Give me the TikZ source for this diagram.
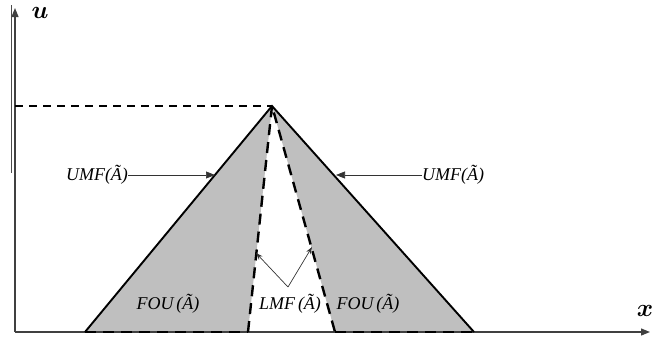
\documentclass[tikz,border=0pt]{standalone}
\usepackage{bm}
\usepackage{fontspec}
\newfontfamily\lblfont{Liberation Serif}
\usetikzlibrary{arrows.meta}
\begin{document}
\begin{tikzpicture}[x=1pt,y=-1pt,
  lbl/.style={font=\lblfont\fontsize{18}{20}\selectfont\itshape, inner sep=0pt},
  ax/.style={line width=1.2pt, draw=black!75},
  umf/.style={line width=1.9pt},
  lmf/.style={line width=2.4pt, dash pattern=on 11pt off 7pt},
  pointer/.style={line width=0.7pt, draw=black!80}]
\useasboundingbox (0,0) rectangle (652,340);
% coordinates
\coordinate (O) at (15,332);
\coordinate (P) at (272,106);
\coordinate (L) at (85,332);
\coordinate (R) at (474,332);
\coordinate (Li) at (248,332);
\coordinate (Ri) at (335,332);
\coordinate (Yt) at (15,8);
\coordinate (Xr) at (650,332);
\coordinate (Y1) at (15,106);
% fill
\fill[black!25] (L) -- (P) -- (R) -- (Ri) -- (P) -- (Li) -- cycle;
% axes
\draw[line width=0.8pt, draw=black!70] (11,5) -- (11,173);
\draw[ax, -{Triangle[length=9pt,width=7pt]}] (O) -- (Yt);
\draw[ax, -{Triangle[length=9pt,width=7pt]}] (O) -- (Xr);
\node[inner sep=0pt] (ulab) at (40,13) {\fontsize{26}{28}\selectfont$\bm{u}$};
\node[inner sep=0pt] (xlab) at (645,311) {\fontsize{28}{30}\selectfont$\bm{x}$};
% dashed top line
\draw[line width=1.8pt, dash pattern=on 8pt off 6pt] (Y1) -- (P);
% UMF
\draw[umf] (L) -- (P) -- (R);
% LMF
\draw[lmf] (Li) -- (P) -- (Ri);
\draw[lmf] (L) -- (Li);
\draw[lmf] (Ri) -- (R);
% labels
\node[lbl] (umfl) at (97,175) {UMF(Ã)};
\node[lbl] (umfr) at (453,175) {UMF(Ã)};
\coordinate (al) at (215,175);
\coordinate (ar) at (336,175);
\draw[pointer, -{Triangle[length=9pt,width=7pt]}] (umfl.east) -- (al);
\draw[pointer, -{Triangle[length=9pt,width=7pt]}] (umfr.west) -- (ar);
\node[lbl] (foul) at (168,304) {FOU\,(Ã)};
\node[lbl] (four) at (368,304) {FOU\,(Ã)};
\node[lbl] (lmf) at (290,304) {LMF\,(Ã)};
\coordinate (lv) at (288,287);
\coordinate (ll) at (256,253);
\coordinate (lr) at (312,247);
\draw[pointer, -{Stealth[length=7pt,width=5pt]}] (lv) -- (ll);
\draw[pointer, -{Stealth[length=7pt,width=5pt]}] (lv) -- (lr);
\end{tikzpicture}
\end{document}
